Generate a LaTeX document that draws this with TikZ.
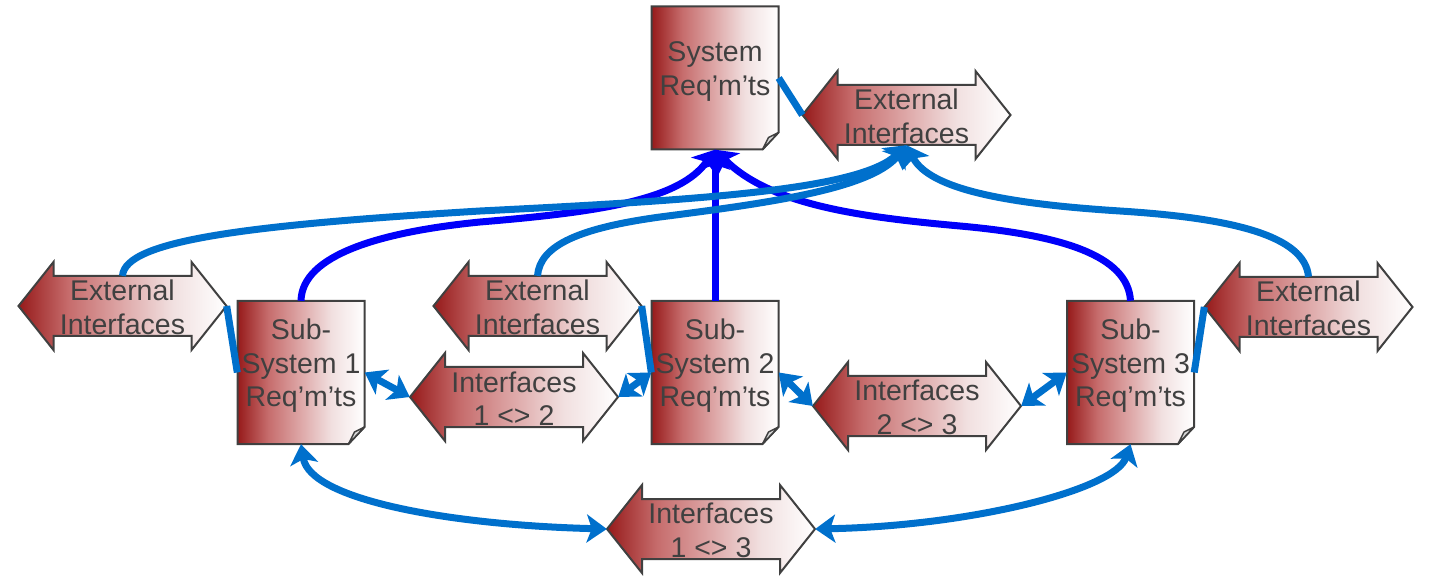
\documentclass[tikz,border=0pt]{standalone}
\usepackage{fontspec}
\setmainfont{Liberation Sans}
\usetikzlibrary{arrows.meta}

\definecolor{dkred}{RGB}{150,26,26}
\definecolor{ltred}{RGB}{198,108,108}
\definecolor{mdred}{RGB}{222,168,168}
\definecolor{paler}{RGB}{241,224,224}
\definecolor{edgegray}{RGB}{64,64,64}
\definecolor{txtgray}{RGB}{64,64,64}
\definecolor{sysblue}{RGB}{0,0,250}
\definecolor{ifblue}{RGB}{0,112,204}
\definecolor{foldgray}{RGB}{215,215,215}

% red-to-white fill used by every page and every block arrow
\pgfdeclarehorizontalshading{redfade}{100bp}{color(0bp)=(dkred); color(25bp)=(dkred);
  color(37bp)=(ltred); color(50bp)=(mdred); color(62bp)=(paler); color(75bp)=(white); color(100bp)=(white)}

\tikzset{
  shapefill/.style={draw=edgegray, line width=2pt, line join=miter, shading=redfade},
  foldpart/.style={draw=edgegray, line width=1.5pt, fill=foldgray, line join=round},
  txtstyle/.style={text=txtgray, font=\fontsize{28.5}{33.5}\selectfont, align=center, inner sep=0pt},
  sysline/.style={draw=sysblue, line width=7pt},
  ifline/.style={draw=ifblue, line width=7pt},
  headend/.style={-{Stealth[length=20pt,width=30pt,inset=5pt]}},
  bothends/.style={{Stealth[length=20pt,width=28pt,inset=5pt]}-{Stealth[length=20pt,width=28pt,inset=5pt]}}
}

% requirements page with a folded lower-right corner: name, centre, text
\newcommand\DocPage[3]{%
  \begin{scope}[shift={(#2)}]
    \path[shapefill] (-63.5,-71.5) -- (63.5,-71.5) -- (63.5,54.5) -- (47.5,71.5) -- (-63.5,71.5) -- cycle;
    \path[foldpart] (63.5,54.5) -- (47.5,71.5) -- (53.5,59.5) -- cycle;
  \end{scope}
  \node[inner sep=0pt, minimum width=127pt, minimum height=143pt] (#1) at (#2) {};
  \node[txtstyle] (#1-text) at ([yshift=6.5pt]#2) {#3};
}

% left-right block arrow: name, centre, text
\newcommand\BiArrow[3]{%
  \path[shapefill, shift={(#2)}] (-104,0) -- (-69,-44) -- (-69,-30) -- (69,-30) -- (69,-44)
    -- (104,0) -- (69,44) -- (69,30) -- (-69,30) -- (-69,44) -- cycle;
  \node[inner sep=0pt, minimum width=208pt, minimum height=60pt] (#1) at (#2) {};
  \node[txtstyle] (#1-text) at ([yshift=-1.5pt]#2) {#3};
}

\begin{document}
\begin{tikzpicture}[x=1pt, y=-1pt]
\useasboundingbox (0,0) rectangle (1436,577);

% requirement pages
\DocPage{sys}{715,78}{System\\Req’m’ts}
\DocPage{sub1}{301,372.5}{Sub-\\System 1\\Req’m’ts}
\DocPage{sub2}{715,372.5}{Sub-\\System 2\\Req’m’ts}
\DocPage{sub3}{1130.5,372.5}{Sub-\\System 3\\Req’m’ts}

% interface block arrows
\BiArrow{extT}{906.5,115}{External\\Interfaces}
\BiArrow{extL}{122.5,306}{External\\Interfaces}
\BiArrow{extM}{537.5,306}{External\\Interfaces}
\BiArrow{extR}{1308.5,307}{External\\Interfaces}
\BiArrow{i12}{514,397}{Interfaces\\1 <> 2}
\BiArrow{i23}{917,406}{Interfaces\\2 <> 3}
\BiArrow{i13}{711,529}{Interfaces\\1 <> 3}

% sub-system requirements trace up to the system requirements
\draw[sysline, headend] (sub1.north) .. controls (302,255) and (380,232) .. (480,222)
  .. controls (600,212) and (680,200) .. (sys.south);
\draw[sysline, headend] (sub2.north) -- (sys.south);
\draw[sysline, headend] (sub3.north) .. controls (1128,255) and (1060,235) .. (960,226)
  .. controls (860,217) and (770,205) .. (sys.south);

% external interfaces roll up to the system-level external interfaces
\draw[ifline, headend] (extL.north) .. controls (125,240) and (250,225) .. (480,211)
  .. controls (700,200) and (860,190) .. (extT.south);
\draw[ifline, headend] (extM.north) .. controls (540,245) and (580,228) .. (660,217)
  .. controls (760,204) and (870,190) .. (extT.south);
\draw[ifline, headend] (extR.north) .. controls (1305,235) and (1230,218) .. (1120,211)
  .. controls (1010,204) and (930,190) .. (extT.south);

% each page to its own external interfaces
\draw[ifline] (sys.east) -- (extT.west);
\draw[ifline] (extL.east) -- (sub1.west);
\draw[ifline] (extM.east) -- (sub2.west);
\draw[ifline] (sub3.east) -- (extR.west);

% interfaces between sub-systems
\draw[ifline, bothends] (sub1.east) -- (i12.west);
\draw[ifline, bothends] (i12.east) -- (sub2.west);
\draw[ifline, bothends] (sub2.east) -- (i23.west);
\draw[ifline, bothends] (i23.east) -- (sub3.west);
\draw[ifline, bothends] (sub1.south) .. controls (310,500) and (450,525) .. (i13.west);
\draw[ifline, bothends] (sub3.south) .. controls (1115,490) and (970,526) .. (i13.east);
\end{tikzpicture}
\end{document}
